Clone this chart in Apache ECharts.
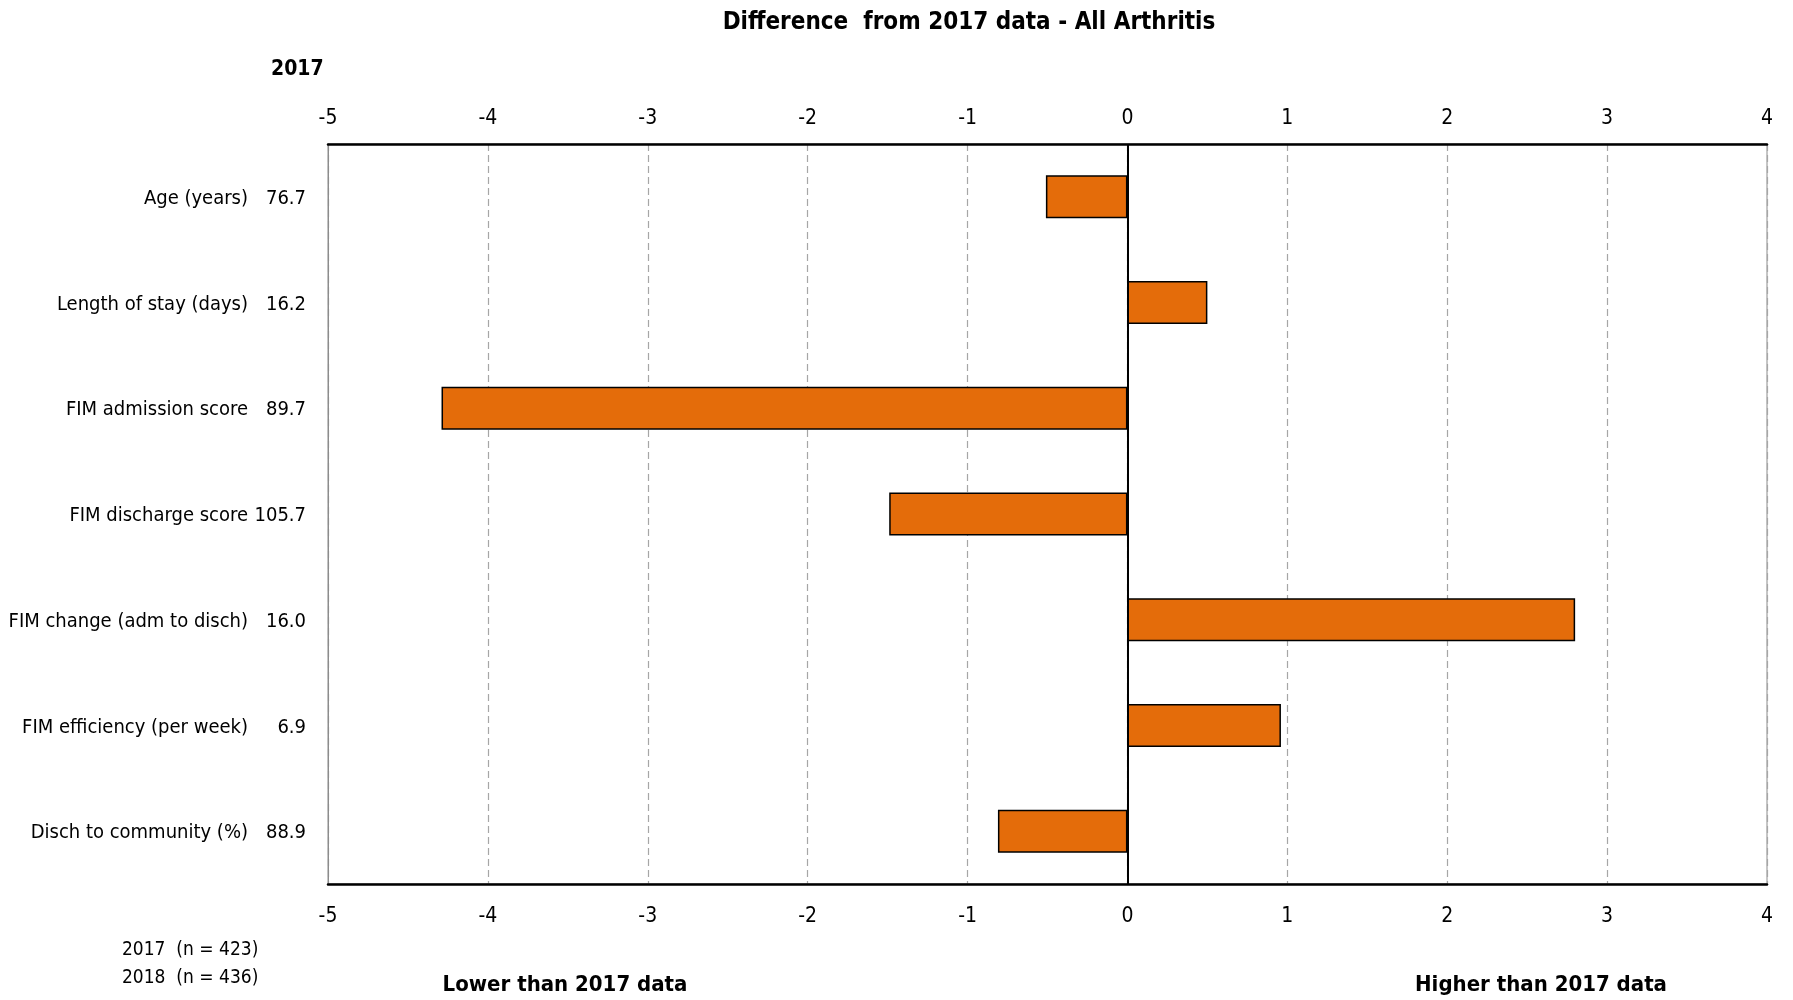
<!DOCTYPE html>
<html>
<head>
<meta charset="utf-8">
<script src="https://cdn.jsdelivr.net/npm/echarts@6/dist/echarts.min.js"></script>
<style>
html,body{margin:0;padding:0;background:#fff;}
#chart{width:1793px;height:1000px;}
</style>
</head>
<body>
<div id="chart"></div>
<script>
const categories = ['Age (years)', 'Length of stay (days)', 'FIM admission score', 'FIM discharge score', 'FIM change (adm to disch)', 'FIM efficiency (per week)', 'Disch to community (%)'];
const values2017 = ['76.7', '16.2', '89.7', '105.7', '16.0', '6.9', '88.9'];
const differences = [-0.51, 0.5, -4.29, -1.49, 2.8, 0.96, -0.81];
const tickMin = -5;
const tickMax = 4;
const sampleLabels = ['2017  (n = 423)', '2018  (n = 436)'];
const titleText = 'Difference  from 2017 data - All Arthritis';
const yearLabel = '2017';
const lowerLabel = 'Lower than 2017 data';
const higherLabel = 'Higher than 2017 data';

const FONT = "'Liberation Sans Narrow', 'Arial Narrow', 'DejaVu Sans Condensed', sans-serif";

const chart = echarts.init(document.getElementById('chart'), null, {renderer: 'canvas'});

const option = {
  animation: false,
  backgroundColor: '#ffffff',
  textStyle: {fontFamily: FONT},
  title: {
    text: titleText,
    left: 964,
    top: 6,
    textAlign: 'center',
    textStyle: {fontFamily: FONT, fontSize: 24, fontWeight: 'bold', color: '#000'}
  },
  grid: {
    left: 328, right: 26, top: 144, bottom: 116,
    outerBoundsMode: 'none',
    containLabel: false,
    show: true, borderColor: '#8c8c8c', borderWidth: 1, backgroundColor: 'transparent'
  },
  xAxis: [
    {
      type: 'value', position: 'bottom', min: tickMin, max: tickMax, interval: 1,
      axisLine: {show: true, onZero: false, lineStyle: {color: '#000', width: 2.5}},
      axisTick: {show: false},
      axisLabel: {fontFamily: FONT, fontSize: 21, color: '#000', margin: 22},
      splitLine: {show: true, lineStyle: {color: '#a6a6a6', type: [7, 4], width: 1.2}}
    },
    {
      type: 'value', position: 'top', min: tickMin, max: tickMax, interval: 1,
      axisLine: {show: true, onZero: false, lineStyle: {color: '#000', width: 2.5}},
      axisTick: {show: false},
      axisLabel: {fontFamily: FONT, fontSize: 21, color: '#000', margin: 15},
      splitLine: {show: false}
    }
  ],
  yAxis: {
    type: 'category', inverse: true, data: categories,
    axisLine: {show: true, onZero: false, lineStyle: {color: '#8c8c8c', width: 1}},
    axisTick: {show: false},
    splitLine: {show: false},
    axisLabel: {
      margin: 22,
      fontFamily: FONT, fontSize: 20, color: '#000',
      formatter: function (val, idx) {
        return '{n|' + val + '}{v|' + values2017[idx] + '}';
      },
      rich: {
        n: {fontFamily: FONT, fontSize: 20, color: '#000', padding: [4, 0, 0, 0]},
        v: {fontFamily: FONT, fontSize: 20, color: '#000', width: 58, align: 'right', padding: [4, 0, 0, 0]}
      }
    }
  },
  series: [{
    type: 'bar',
    xAxisIndex: 0,
    data: differences,
    barWidth: 43,
    itemStyle: {color: '#E46C0A', borderColor: '#000', borderWidth: 1.5},
    markLine: {
      silent: true, symbol: 'none', label: {show: false},
      lineStyle: {color: '#000', width: 2, type: 'solid'},
      data: [{xAxis: 0}]
    }
  }],
  graphic: [
    {type: 'text', left: 271, top: 59, style: {text: yearLabel, font: "bold 21px " + FONT, fill: '#000'}},
    {type: 'text', left: 122, top: 941, style: {text: sampleLabels[0], font: "19px " + FONT, fill: '#000'}},
    {type: 'text', left: 122, top: 969, style: {text: sampleLabels[1], font: "19px " + FONT, fill: '#000'}},
    {type: 'text', x: 565, y: 985, style: {text: lowerLabel, font: "bold 22px " + FONT, fill: '#000', textAlign: 'center', textVerticalAlign: 'middle'}},
    {type: 'text', x: 1541, y: 985, style: {text: higherLabel, font: "bold 22px " + FONT, fill: '#000', textAlign: 'center', textVerticalAlign: 'middle'}}
  ]
};
chart.setOption(option);
</script>
</body>
</html>
